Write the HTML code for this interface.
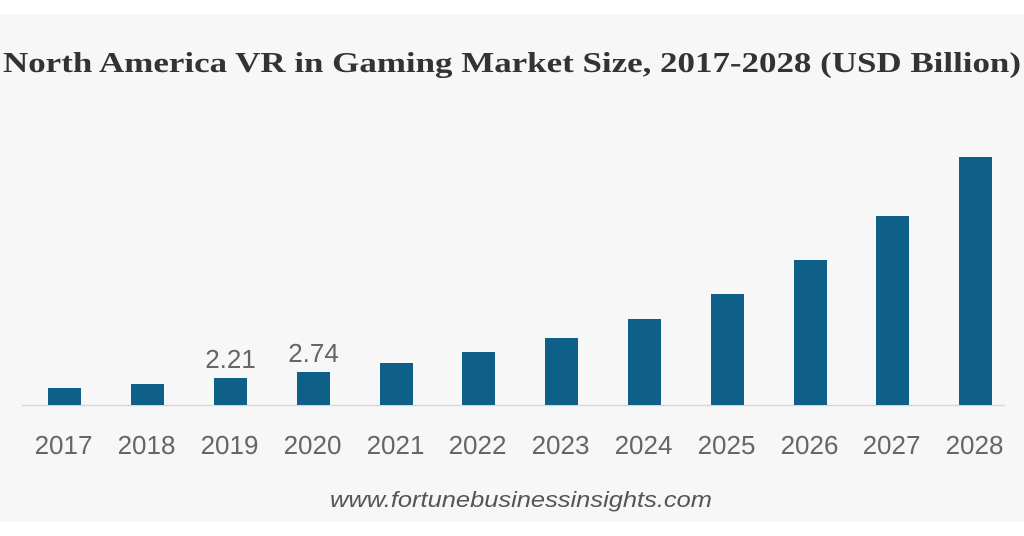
<!DOCTYPE html>
<html><head><meta charset="utf-8"><style>
html,body{margin:0;padding:0;background:#fff;}
svg{display:block;}
</style></head><body>
<svg width="1024" height="536" viewBox="0 0 1024 536" xmlns="http://www.w3.org/2000/svg">
<rect x="0" y="14" width="1024" height="508" fill="#f7f7f7"/>
<text x="3" y="72" font-family="Liberation Serif, serif" font-weight="bold" font-size="28" fill="#333" textLength="1018" lengthAdjust="spacingAndGlyphs">North America VR in Gaming Market Size, 2017-2028 (USD Billion)</text>
<line x1="22" y1="405.5" x2="1005" y2="405.5" stroke="#d8d8d8" stroke-width="1.5"/>
<g fill="#0e6088">
<rect x="48" y="388" width="33" height="17"/>
<rect x="131" y="384" width="33" height="21"/>
<rect x="214" y="378" width="33" height="27"/>
<rect x="297" y="372" width="33" height="33"/>
<rect x="380" y="363" width="33" height="42"/>
<rect x="462" y="352" width="33" height="53"/>
<rect x="545" y="338" width="33" height="67"/>
<rect x="628" y="319" width="33" height="86"/>
<rect x="711" y="294" width="33" height="111"/>
<rect x="794" y="260" width="33" height="145"/>
<rect x="876" y="216" width="33" height="189"/>
<rect x="959" y="157" width="33" height="248"/>
</g>
<g font-family="Liberation Sans, sans-serif" font-size="26" fill="#666" text-anchor="middle">
<text x="230.5" y="368">2.21</text>
<text x="313.5" y="362">2.74</text>
<text x="63.5" y="454">2017</text>
<text x="146.5" y="454">2018</text>
<text x="229.5" y="454">2019</text>
<text x="312.5" y="454">2020</text>
<text x="395.5" y="454">2021</text>
<text x="477.5" y="454">2022</text>
<text x="560.5" y="454">2023</text>
<text x="643.5" y="454">2024</text>
<text x="726.5" y="454">2025</text>
<text x="809.5" y="454">2026</text>
<text x="891.5" y="454">2027</text>
<text x="974.5" y="454">2028</text>
</g>
<text x="521" y="507" font-family="Liberation Sans, sans-serif" font-style="italic" font-size="22" fill="#555" text-anchor="middle" textLength="382" lengthAdjust="spacingAndGlyphs">www.fortunebusinessinsights.com</text>
</svg>
</body></html>
